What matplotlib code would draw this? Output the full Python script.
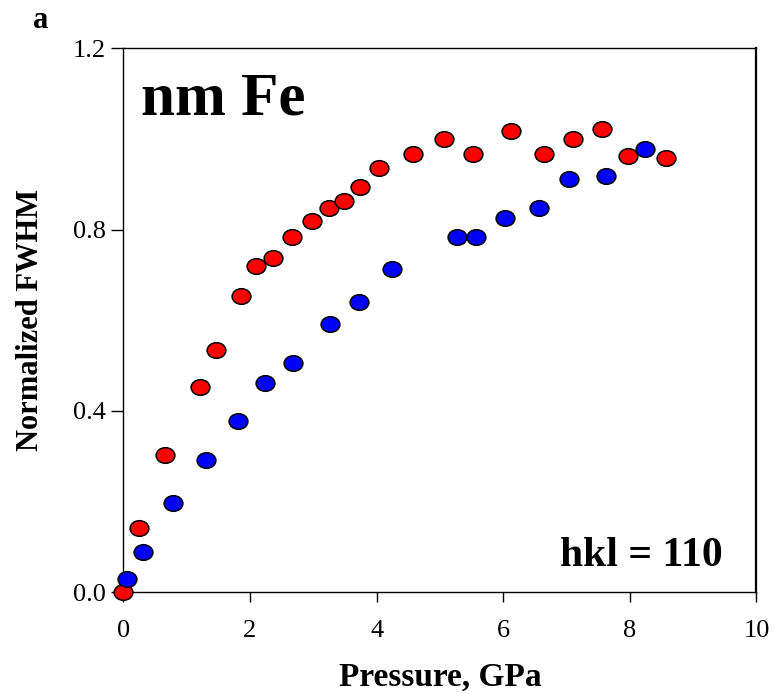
import numpy as np
import matplotlib
matplotlib.use('Agg')
import matplotlib.pyplot as plt
from matplotlib.path import Path

p_red = [0.0, 0.25, 0.66, 1.21, 1.47, 1.85, 2.09, 2.37, 2.66, 2.98, 3.25, 3.49, 3.73,
         4.04, 4.58, 5.06, 5.52, 6.12, 6.64, 7.10, 7.56, 7.97, 8.57]
fwhm_red = [0.0, 0.141, 0.302, 0.452, 0.534, 0.653, 0.72, 0.738, 0.783, 0.818, 0.847,
            0.864, 0.893, 0.936, 0.967, 1.0, 0.967, 1.018, 0.967, 1.0, 1.022, 0.962, 0.957]

p_blue = [0.05, 0.31, 0.78, 1.30, 1.81, 2.24, 2.68, 3.26, 3.72, 4.25, 5.27, 5.57,
          6.02, 6.57, 7.04, 7.62, 8.24]
fwhm_blue = [0.03, 0.089, 0.196, 0.292, 0.379, 0.462, 0.505, 0.591, 0.64, 0.713, 0.783,
             0.783, 0.826, 0.848, 0.912, 0.918, 0.978]

xticks = [0, 2, 4, 6, 8, 10]
yticks = [0.0, 0.4, 0.8, 1.2]

plt.rcParams['font.family'] = ['Liberation Serif', 'DejaVu Serif']

# slightly wide ellipse marker (reference is stretched sideways)
circ = Path.unit_circle()
ell = Path(circ.vertices * np.array([1.2, 1.0]), circ.codes)

fig = plt.figure(figsize=(7.75, 6.94), dpi=100)
ax = fig.add_axes([0.1592, 0.1465, 0.8169, 0.7839])

ax.plot(p_red, fwhm_red, ls='none', marker=ell, ms=13.5, mfc='#ff0000', mec='black',
        mew=1.1, clip_on=False, zorder=3)
ax.plot(p_blue, fwhm_blue, ls='none', marker=ell, ms=13.5, mfc='#0000ff', mec='black',
        mew=1.1, clip_on=False, zorder=4)

ax.set_xlim(0, 10)
ax.set_ylim(0, 1.2)
ax.set_xticks(xticks)
ax.set_yticks(yticks)
ax.set_yticklabels(['%.1f' % v for v in yticks])
ax.tick_params(axis='x', direction='out', length=7, width=1, pad=13, labelsize=19)
ax.tick_params(axis='y', direction='out', length=8.5, width=1, pad=4, labelsize=19)
for s in ax.spines.values():
    s.set_linewidth(1)
ax.spines['right'].set_linewidth(1.6)

ax.set_xlabel('Pressure, GPa', fontsize=24, fontweight='bold', labelpad=14)
ax.set_ylabel('Normalized FWHM', fontsize=22, fontweight='bold', labelpad=20)

ax.text(0.028, 0.905, 'nm Fe', transform=ax.transAxes, fontsize=44, fontweight='bold',
        va='center', ha='left')
ax.text(0.946, 0.067, 'hkl = 110', transform=ax.transAxes, fontsize=30, fontweight='bold',
        va='center', ha='right')
fig.text(0.053, 0.971, 'a', fontsize=22, fontweight='bold', va='center', ha='center')

fig.savefig('out.png', dpi=100)
